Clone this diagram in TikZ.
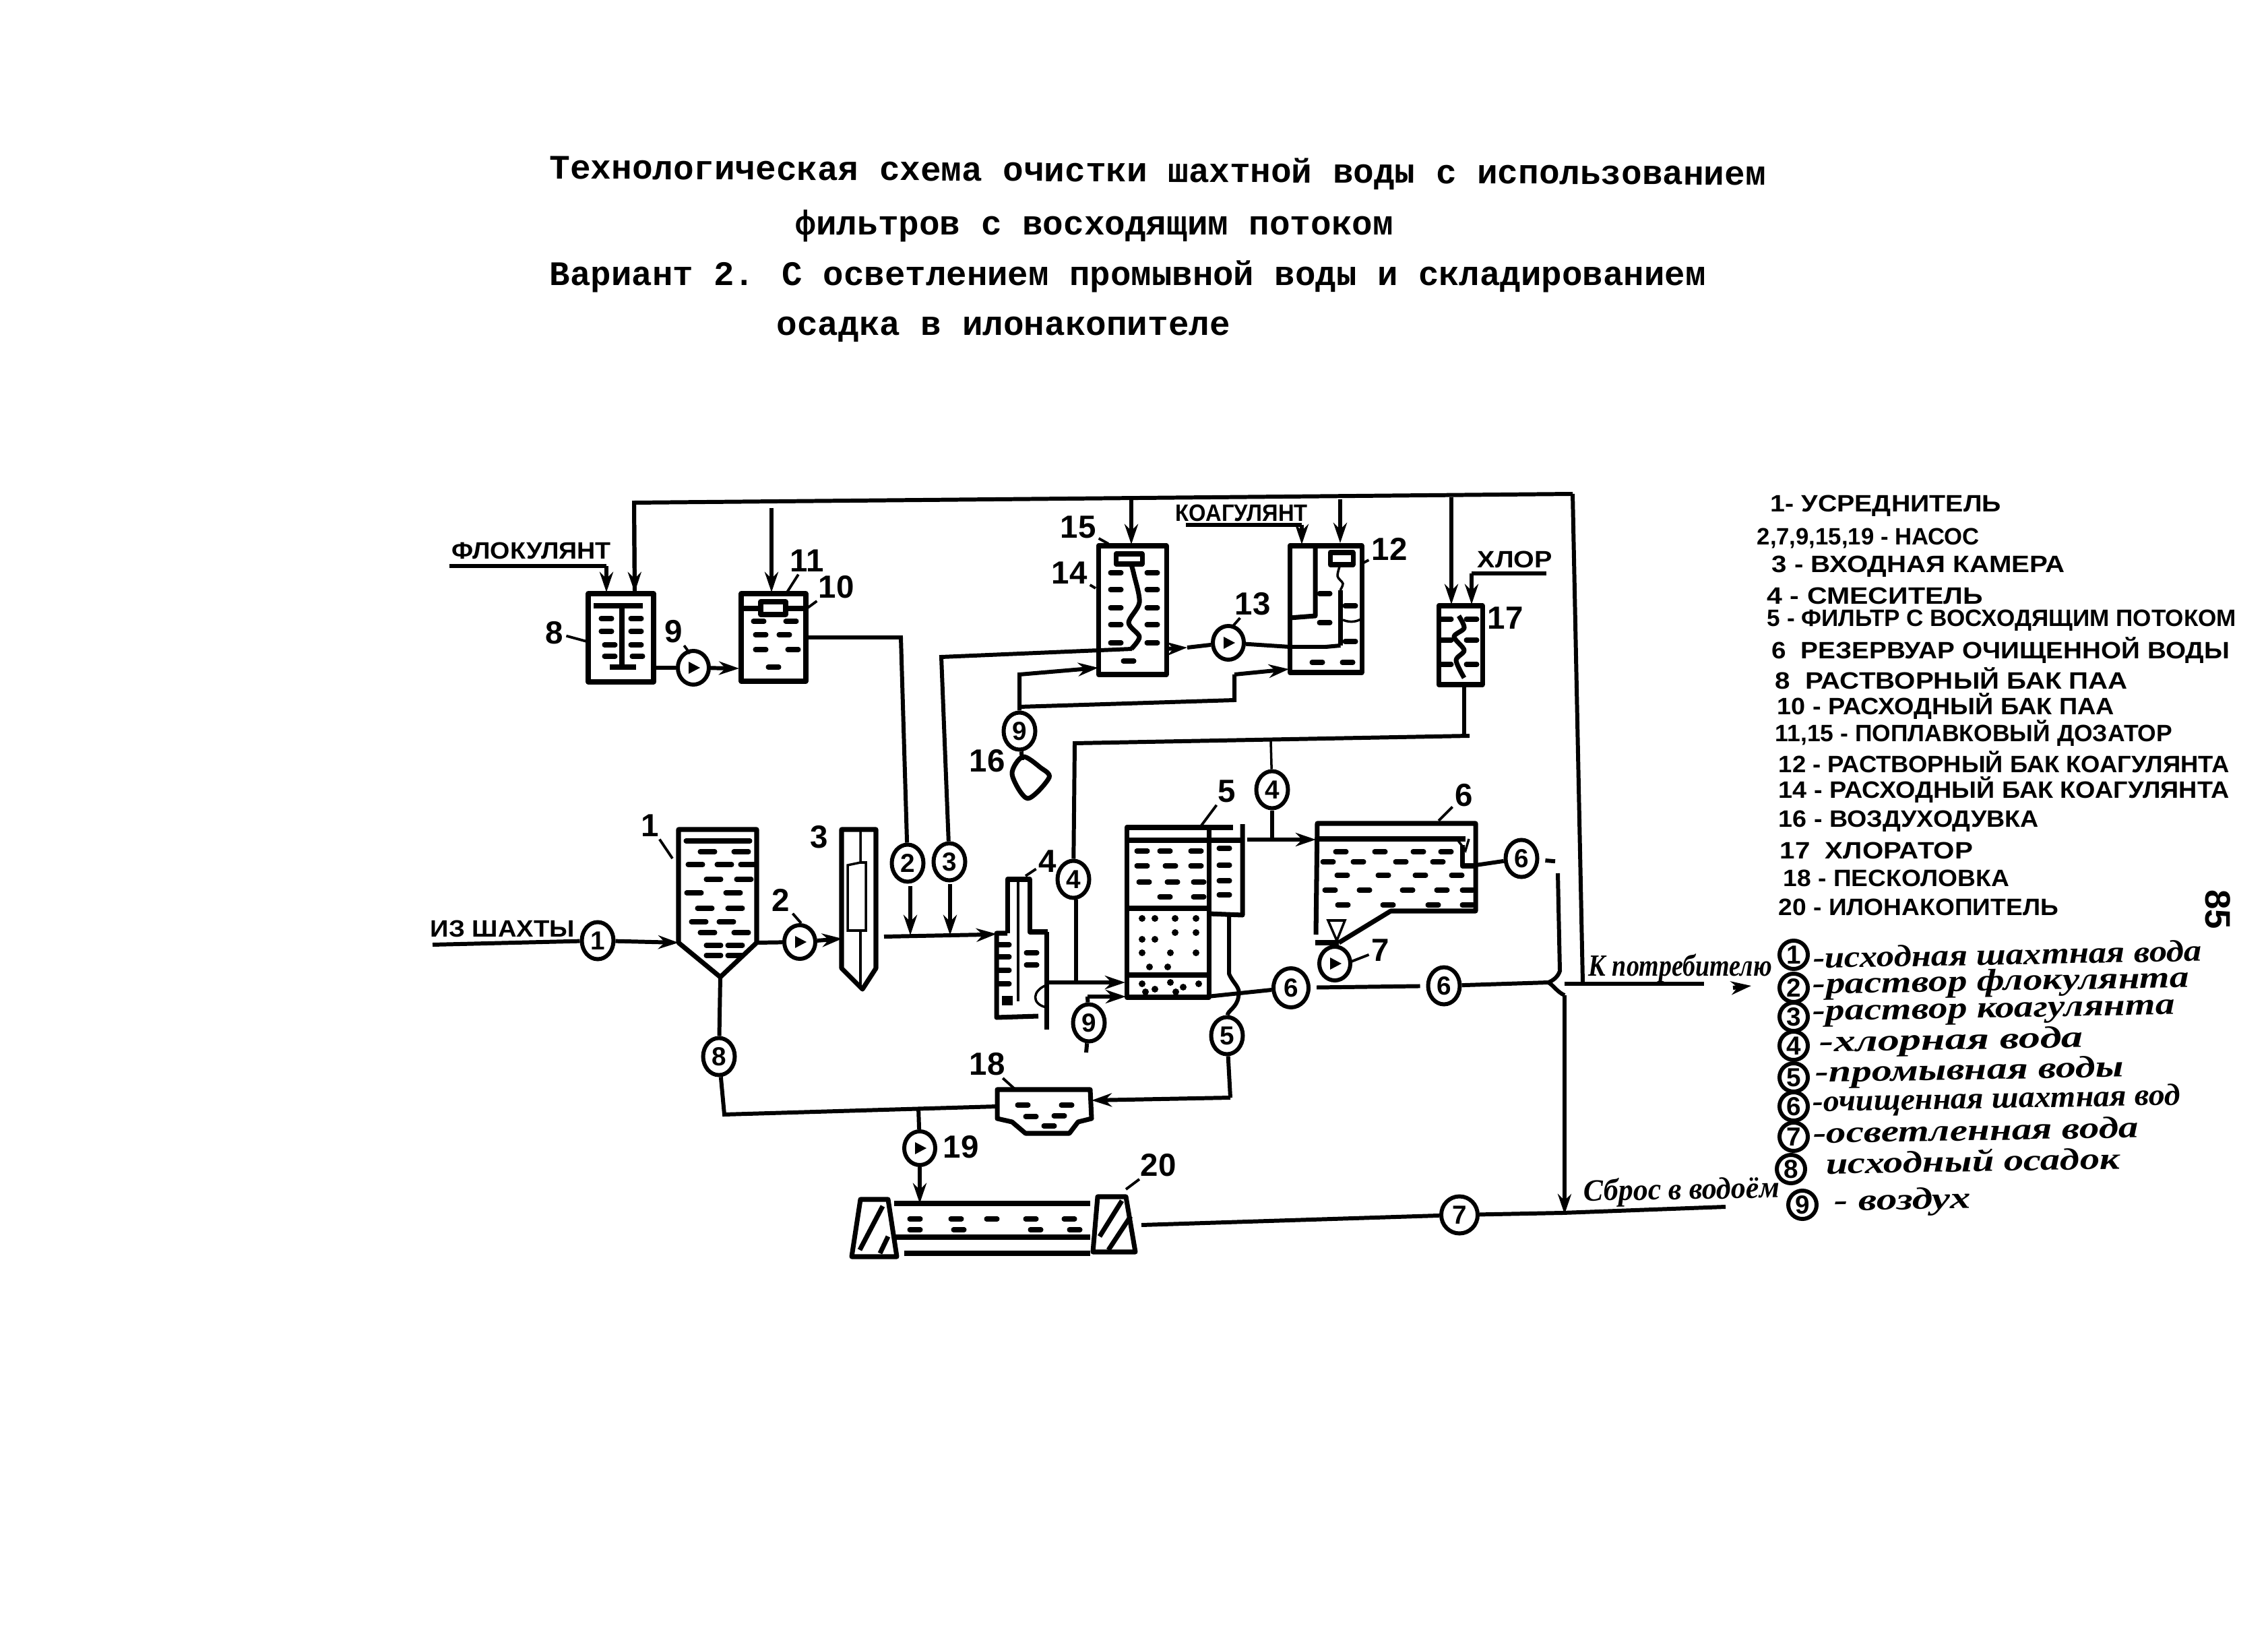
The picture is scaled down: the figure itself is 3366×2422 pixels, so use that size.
\documentclass[tikz,border=0pt]{standalone}
\usepackage{fontspec}
\usepackage{graphicx}
\setmainfont{Liberation Sans}
\newfontfamily\typedfont{Liberation Mono}
\newfontfamily\cursfont{Liberation Serif}
\usetikzlibrary{shapes.geometric,arrows.meta}
\tikzset{
  pipe/.style={line width=1.7pt},
  gappipe/.style={pipe,shorten <=0.09cm,shorten >=0.09cm},
  flow/.style={pipe,-{Stealth[length=0.3cm,width=0.2cm]}},
  wall/.style={line width=2pt,line join=round},
  thinline/.style={line width=1pt},
  leader/.style={line width=1.1pt},
  ripple/.style={line width=2pt,line cap=round},
  tankbox/.style 2 args={draw,wall,inner sep=0pt,outer sep=0pt,minimum width=#1*0.01cm,minimum height=#2*0.01cm},
  stream/.style={ellipse,draw,pipe,inner sep=0pt,minimum width=0.47cm,minimum height=0.55cm,font=\bfseries\fontsize{11pt}{11pt}\selectfont},
  pump/.style={ellipse,draw,pipe,inner sep=0pt,minimum width=0.46cm,minimum height=0.5cm},
  tag/.style={inner sep=1pt,font=\bfseries\fontsize{13.5pt}{13.5pt}\selectfont},
  hand/.style={inner sep=0pt,anchor=west,font=\bfseries\fontsize{10pt}{10pt}\selectfont},
  cursive/.style={inner sep=0pt,anchor=west,rotate=1,font=\cursfont\bfseries\itshape\fontsize{13pt}{13pt}\selectfont},
  typed/.style={inner sep=0pt,anchor=west,font=\typedfont\bfseries\fontsize{14.5pt}{14.5pt}\selectfont}
}
\begin{document}
\begin{tikzpicture}[x=0.01cm,y=-0.01cm]
  \useasboundingbox (0,0) rectangle (3366,2422);
  \fill[white] (0,0) rectangle (3366,2422);

  % title
  \node[typed,rotate=-0.3] (title1) at (815,252) {Технологическая схема очистки шахтной воды с использованием};
  \node[typed] (title2) at (1180,335) {фильтров с восходящим потоком};
  \node[typed] (title3) at (815,410) {\resizebox{17.15cm}{\height}{Вариант 2. С осветлением промывной воды и складированием}};
  \node[typed] (title4) at (1152,489) {осадка в илонакопителе};

  % tanks
  \node[tankbox={97}{131}] (t8) at (921.5,946.5) {};
  \node[tankbox={96}{130}] (t10) at (1148,946) {};
  \node[tankbox={101}{191}] (t14) at (1680.5,905.5) {};
  \node[tankbox={107}{188}] (t12) at (1967.5,904) {};
  \node[tankbox={65}{117}] (t17) at (2167.5,957.5) {};
  \node[tankbox={122}{252}] (t5) at (1733,1354) {};

  % equalizer, inlet chamber, mixer
  \coordinate (t1l) at (1007,1399);
  \coordinate (t1r) at (1123,1399);
  \coordinate (t1apex) at (1069,1450);
  \draw[wall] (1007,1231) -- (t1l) -- (t1apex) -- (t1r) -- (1123,1231) -- cycle;
  \draw[wall] (1249,1231) -- (1249,1437) -- (1280,1468) -- (1300,1437) -- (1300,1231) -- cycle;
  \draw[thinline] (1277,1233) -- (1277,1280) -- (1258,1284) -- (1258,1381) -- (1285,1381) -- (1285,1280) -- (1277,1280);
  \draw[thinline] (1277,1381) -- (1277,1463);
  \draw[wall] (1495,1385) -- (1495,1305) -- (1528,1305) -- (1528,1383) -- (1555,1383);
  \draw[wall] (1495,1385) -- (1479,1385) -- (1479,1510) -- (1541,1508);
  \draw[wall] (1553,1383) -- (1553,1528);
  \draw[thinline] (1511,1307) -- (1511,1486);
  \draw[thinline] (1553,1462) .. controls (1532,1470) and (1530,1490) .. (1553,1495);
  \fill (1487,1478) rectangle (1503,1492);

  % filter
  \draw[wall] (1672,1228) -- (1830,1228);
  \draw[wall] (1675,1247) -- (1844,1247);
  \draw[wall] (1844,1223) -- (1844,1358) -- (1794,1356);
  \draw[wall] (1675,1348) -- (1794,1348);
  \draw[wall] (1675,1447) -- (1794,1447);

  % clear water reservoir
  \draw[wall] (1953,1387) -- (1955,1222) -- (2190,1222) -- (2190,1352) -- (2064,1352) -- (1987,1399);
  \draw[wall] (1955,1245) -- (2175,1245);
  \draw[wall] (2170,1254) -- (2170,1285) -- (2190,1285);
  \draw[thinline] (2162,1245) -- (2175,1262) -- (2180,1245);
  \draw[wall] (1952,1399) -- (1987,1399);
  \draw[thinline] (1971,1366) -- (1996,1366) -- (1984,1396) -- cycle;

  % sand trap and sludge pond
  \draw[wall] (1480,1617) -- (1618,1617) -- (1620,1660) -- (1600,1665) -- (1587,1682) -- (1522,1682) -- (1502,1665) -- (1480,1660) -- cycle;
  \draw[wall] (1277,1780) -- (1318,1780) -- (1331,1865) -- (1264,1865) -- cycle;
  \draw[wall] (1629,1776) -- (1671,1776) -- (1685,1858) -- (1622,1858) -- cycle;
  \draw[wall] (1276,1855) -- (1310,1790);
  \draw[wall] (1306,1860) -- (1318,1835);
  \draw[wall] (1632,1835) -- (1665,1782);
  \draw[wall] (1645,1855) -- (1678,1805);
  \draw[wall] (1327,1786) -- (1618,1786);
  \draw[wall] (1327,1836) -- (1618,1836);
  \draw[wall] (1342,1860) -- (1618,1860);

  % float boxes and inner parts
  \draw[wall] (881,899) -- (954,899);
  \draw[wall] (923,902) -- (923,988);
  \draw[wall] (905,990) -- (944,990);
  \draw[wall] (1100,903) -- (1129,903);
  \draw[wall] (1166,903) -- (1196,903);
  \draw[wall] (1129,893) rectangle (1166,912);
  \draw[wall] (1656,822) rectangle (1695,837);
  \draw[wall] plot[smooth] coordinates {(1679,838) (1683,853) (1691,894) (1675,924) (1691,945) (1679,963)};
  \draw[wall] (1952,812) -- (1952,914) -- (1914,917);
  \draw[wall] (1974,820) rectangle (2008,838);
  \draw[thinline] plot[smooth] coordinates {(1989,838) (1985,855) (1993,866) (1989,876)};
  \draw[wall] (1989,876) -- (1989,958);
  \draw[thinline] (1993,920) .. controls (2005,925) and (2015,922) .. (2021,918);
  \draw[wall] plot[smooth] coordinates {(2165,914) (2173,932) (2158,945) (2173,965) (2161,980) (2173,1006)};

  % water and sediment
  \foreach \x/\y in {1050/1264,1100/1264,1032/1283,1075/1283,1110/1283,1059/1305,1104/1305,1030/1325,1088/1325,
    1046/1348,1091/1348,1037/1368,1078/1368,1050/1384,1100/1384,1059/1403,1091/1403,1059/1418,1091/1418}
    \draw[ripple] (\x-11,\y) -- (\x+11,\y);
  \draw[ripple] (1018,1248) -- (1113,1248);
  \foreach \x/\y in {900/918,944/918,900/937,944/937,905/957,944/957,905/974,946/974,
    1126/922,1174/922,1129/942,1164/942,1129/964,1177/964,1148/990,
    1656/850,1710/850,1656/875,1710/875,1656/902,1710/902,1656/927,1710/927,1656/954,1710/954,1675/981,
    1966/881,2004/899,1966/924,2004/952,1955/983,2000/983,2146/919,2184/919,2146/950,2184/950,2146/986,2184/986,
    1695/1263,1729/1263,1775/1263,1695/1285,1737/1285,1775/1285,1698/1309,1740/1309,1779/1309,1729/1331,1779/1331,
    1817/1259,1817/1284,1817/1307,1817/1328,
    1990/1264,2048/1264,2105/1264,2146/1264,1971/1279,2016/1279,2079/1279,2134/1279,
    1992/1299,2053/1299,2108/1299,2162/1299,1974/1321,2025/1321,2089/1321,2140/1321,2178/1321,
    1993/1343,2060/1343,2127/1343,2178/1343,
    1518/1640,1583/1640,1530/1657,1572/1656,1557/1671,
    1358/1809,1419/1809,1472/1809,1530/1809,1587/1809,1358/1825,1423/1825,1537/1825,1595/1825,
    1490/1402,1490/1420,1490/1440,1490/1460,1531/1414,1531/1432}
    \draw[ripple] (\x-8,\y) -- (\x+8,\y);
  \foreach \x/\y in {1695/1363,1714/1363,1744/1363,1775/1363,1695/1394,1714/1394,1744/1384,1775/1384,
    1695/1414,1737/1414,1775/1414,1706/1435,1733/1435,1695/1460,1714/1468,1737/1458,1756/1465,1779/1460,1700/1472,1745/1472}
    \fill (\x,\y) circle (0.05cm);

  % stream marks
  \node[stream] (c1) at (887,1396) {1};
  \node[stream] (c2) at (1347,1281) {2};
  \node[stream] (c3) at (1409,1279) {3};
  \node[stream] (c4a) at (1593,1305) {4};
  \node[stream] (c4b) at (1888,1172) {4};
  \node[stream] (c5) at (1821,1537) {5};
  \node[stream,minimum width=0.52cm,minimum height=0.58cm] (c6a) at (1916,1466) {6};
  \node[stream] (c6b) at (2143,1463) {6};
  \node[stream] (c6c) at (2258,1274) {6};
  \node[stream,minimum width=0.54cm] (c7a) at (2166,1803) {7};
  \node[stream] (c8) at (1067,1568) {8};
  \node[stream] (c9a) at (1513,1085) {9};
  \node[stream] (c9b) at (1616,1518) {9};

  % pumps
  \node[pump] (p2) at (1187,1398) {};
  \node[pump] (p7) at (1981,1430) {};
  \node[pump] (p9) at (1029,991) {};
  \node[pump] (p13) at (1823,954) {};
  \node[pump] (p19) at (1365,1704) {};
  \foreach \p in {p2,p7,p9,p13,p19}
    \fill ([xshift=-0.07cm,yshift=0.09cm]\p.center) -- ([xshift=-0.07cm,yshift=-0.09cm]\p.center) -- ([xshift=0.1cm]\p.center) -- cycle;

  % blower
  \draw[wall] plot[smooth cycle] coordinates {(1518,1123) (1502,1149) (1525,1185) (1557,1154) (1544,1139)};
  \coordinate (blowerIn) at (1517,1128);
  \draw[pipe] (c9a) -- (blowerIn);

  % number tags with leaders
  \foreach \n/\x/\y/\tx/\ty in {1/965/1225/998/1274,2/1159/1336/1189/1370,4/1555/1278/1522/1300,5/1821/1174/1783/1225,
    6/2173/1180/2135/1218,7/2049/1410/2003/1428,8/823/939/871/952,9/1000/937/1024/970,10/1241/871/1196/904,
    11/1198/832/1168/879,12/2062/815/2024/835,13/1859/896/1829/930,14/1587/850/1626/873,15/1600/782/1645/807,
    17/2234/917/2200/925,18/1465/1579/1507/1617,20/1719/1729/1671/1765}{
    \node[tag] (lb\n) at (\x,\y) {\n};
    \coordinate (ld\n) at (\tx,\ty);
    \draw[leader] (lb\n) -- (ld\n);
  }
  \node[tag] (lb3) at (1216,1242) {3};
  \node[tag] (lb16) at (1465,1129) {16};
  \node[tag] (lb19) at (1426,1702) {19};

  % pipe points
  \coordinate (topL) at (941,746);
  \coordinate (topR) at (2334,733);
  \coordinate (outMain) at (2349,1458);
  \coordinate (feed8) at (942,879);
  \coordinate (feed10a) at (1145,754);
  \coordinate (feed10b) at (1145,879);
  \coordinate (feed14a) at (1679,738);
  \coordinate (feed14b) at (1679,808);
  \coordinate (feed12a) at (1989,741);
  \coordinate (feed12b) at (1989,806);
  \coordinate (feed17a) at (2154,738);
  \coordinate (feed17b) at (2154,897);
  \coordinate (flocA) at (667,840);
  \coordinate (flocB) at (900,840);
  \coordinate (flocC) at (900,879);
  \coordinate (coagA) at (1760,779);
  \coordinate (coagB) at (1932,779);
  \coordinate (coagC) at (1932,808);
  \coordinate (chlorA) at (2295,851);
  \coordinate (chlorB) at (2184,851);
  \coordinate (chlorC) at (2184,897);
  \coordinate (in9) at (1097,992);
  \coordinate (out10) at (1337,946);
  \coordinate (bend3) at (1397,975);
  \coordinate (end3) at (1680,963);
  \coordinate (arr13) at (1762,961);
  \coordinate (out14) at (1731,963);
  \coordinate (in12) at (1914,960);
  \coordinate (air1) at (1513,1001);
  \coordinate (air2) at (1630,991);
  \coordinate (air3) at (1513,1049);
  \coordinate (air4) at (1832,1039);
  \coordinate (air5) at (1832,1001);
  \coordinate (air6) at (1913,993);
  \coordinate (shaft) at (642,1402);
  \coordinate (in3) at (1250,1393);
  \coordinate (m0) at (1312,1390);
  \coordinate (arr4) at (1462,1387);
  \coordinate (in4) at (1479,1386);
  \coordinate (dose2a) at (1351,1315);
  \coordinate (dose2b) at (1351,1388);
  \coordinate (dose3a) at (1410,1312);
  \coordinate (dose3b) at (1410,1388);
  \coordinate (ch1) at (2181,1092);
  \coordinate (ch2) at (1595,1103);
  \coordinate (ch3) at (2173,1092);
  \coordinate (ch4) at (1597,1335);
  \coordinate (ch5) at (1597,1458);
  \coordinate (ch6) at (1886,1100);
  \coordinate (mix1) at (1553,1458);
  \coordinate (mix2) at (1670,1458);
  \coordinate (air7) at (1614,1479);
  \coordinate (air8) at (1671,1479);
  \coordinate (air9) at (1612,1562);
  \coordinate (tee6a) at (1888,1246);
  \coordinate (tee6b) at (1851,1246);
  \coordinate (in6) at (1953,1246);
  \coordinate (out5) at (1792,1479);
  \coordinate (wash1) at (1824,1358);
  \coordinate (wash2) at (1824,1445);
  \coordinate (wash3) at (1838,1479);
  \coordinate (wash4) at (1826,1629);
  \coordinate (in18) at (1620,1633);
  \coordinate (out18) at (1480,1642);
  \coordinate (sed1) at (1075,1654);
  \coordinate (tee19) at (1363,1643);
  \coordinate (in20) at (1365,1786);
  \coordinate (over6) at (2190,1284);
  \coordinate (over6b) at (2317,1279);
  \coordinate (cross1) at (2312,1296);
  \coordinate (cross2) at (2315,1441);
  \coordinate (cross3) at (2298,1458);
  \coordinate (cross4) at (2322,1477);
  \coordinate (dump) at (2322,1802);
  \coordinate (consA) at (2322,1460);
  \coordinate (consB) at (2529,1460);
  \coordinate (consC) at (2572,1466);
  \coordinate (consD) at (2599,1463);
  \coordinate (out20) at (1694,1818);
  \coordinate (dumpLine) at (2319,1800);
  \coordinate (dumpEnd) at (2561,1791);

  % pipes
  \draw[pipe] (topR) -- (topL) -- (feed8);
  \draw[flow] (topL) -- (feed8);
  \draw[pipe] (topR) -- (outMain);
  \draw[flow] (feed10a) -- (feed10b);
  \draw[flow] (feed14a) -- (feed14b);
  \draw[flow] (feed12a) -- (feed12b);
  \draw[flow] (feed17a) -- (feed17b);
  \draw[pipe] (flocA) -- (flocB);
  \draw[flow] (flocB) -- (flocC);
  \draw[pipe] (coagA) -- (coagB);
  \draw[flow] (coagB) -- (coagC);
  \draw[pipe] (chlorA) -- (chlorB);
  \draw[flow] (chlorB) -- (chlorC);
  \draw[pipe] (t8.east |- p9) -- (p9);
  \draw[flow] (p9) -- (in9);
  \draw[pipe] (t10.east) -- (out10) -- (c2);
  \draw[pipe] (c3) -- (bend3) -- (end3);
  \draw[flow] (out14) -- (arr13);
  \draw[pipe] (arr13) -- (p13);
  \draw[pipe] (p13) -- (in12) -- (t12.center |- in12) -- ++(22,-2);
  \draw[flow] (air3) -- (air1) -- (air2);
  \draw[pipe] (c9a) -- (air3) -- (air4) -- (air5);
  \draw[flow] (air5) -- (air6);
  \draw[pipe] (shaft) -- (c1);
  \draw[flow] (c1) -- (t1l);
  \draw[pipe] (t1r) -- (p2);
  \draw[flow] (p2) -- (in3);
  \draw[pipe] (m0) -- (arr4);
  \draw[flow] (arr4) -- (in4);
  \draw[flow] (dose2a) -- (dose2b);
  \draw[flow] (dose3a) -- (dose3b);
  \draw[pipe] (t17.south -| ch3) -- (ch3);
  \draw[pipe] (ch1) -- (ch2) -- (c4a);
  \draw[pipe] (ch4) -- (ch5);
  \draw[thinline] (ch6) -- (c4b);
  \draw[flow] (mix1) -- (mix2);
  \draw[pipe] (c9b) -- (air7);
  \draw[flow] (air7) -- (air8);
  \draw[pipe] (c9b) -- (air9);
  \draw[pipe] (c4b) -- (tee6a);
  \draw[flow] (tee6b) -- (in6);
  \draw[pipe] (out5) -- (c6a);
  \draw[gappipe] (c6a) -- (c6b);
  \draw[pipe] (c6b) -- (cross3);
  \draw[pipe] (wash1) -- (wash2) .. controls (1830,1460) and (1842,1465) .. (wash3) .. controls (1836,1495) and (1822,1500) .. (c5);
  \draw[pipe] (c5) -- (wash4);
  \draw[flow] (wash4) -- (in18);
  \draw[pipe] (out18) -- (sed1) -- (c8);
  \draw[pipe] (c8) -- (t1apex);
  \draw[pipe] (tee19) -- (p19);
  \draw[flow] (p19) -- (in20);
  \draw[pipe] (over6) -- (c6c);
  \draw[gappipe] (c6c) -- (over6b);
  \draw[pipe] (cross1) -- (cross2) .. controls (2312,1450) and (2305,1455) .. (cross3) .. controls (2305,1462) and (2312,1473) .. (cross4);
  \draw[flow] (cross4) -- (dump);
  \draw[pipe] (consA) -- (consB);
  \draw[flow] (consC) -- (consD);
  \draw[pipe] (out20) -- (c7a) -- (dumpLine);
  \draw[pipe] (dumpLine) -- (dumpEnd);
  \draw[leader] (p7) -- (ld7);
  \coordinate (p7top) at (1984,1399);
  \draw[pipe] (p7top) -- (p7);

  % stream names on the drawing
  \node[hand] (nFloc) at (670,817) {\resizebox{2.36cm}{\height}{ФЛОКУЛЯНТ}};
  \node[hand] (nCoag) at (1744,761) {\resizebox{1.96cm}{\height}{КОАГУЛЯНТ}};
  \node[hand] (nChlor) at (2192,830) {\resizebox{1.11cm}{\height}{ХЛОР}};
  \node[hand] (nMine) at (638,1378) {\resizebox{2.14cm}{\height}{ИЗ ШАХТЫ}};
  \node[cursive,rotate=-1] (nCons) at (2357,1437) {\resizebox{2.72cm}{\height}{К потребителю}};
  \node[cursive] (nDump) at (2350,1771) {\resizebox{2.9cm}{\height}{Сброс в водоём}};

  % legend of units
  \foreach \n/\x/\y/\w/\txt in {1/2627/751/3.42/{1- УСРЕДНИТЕЛЬ},2/2607/799/3.30/{2,7,9,15,19 - НАСОС},3/2629/841/4.35/{3 - ВХОДНАЯ КАМЕРА},
    4/2622/884/3.20/{4 - СМЕСИТЕЛЬ},5/2622/921/6.96/{5 - ФИЛЬТР С ВОСХОДЯЩИМ ПОТОКОМ},6/2629/965/6.79/{6\ \ РЕЗЕРВУАР ОЧИЩЕННОЙ ВОДЫ},
    8/2634/1007/5.23/{8\ \ РАСТВОРНЫЙ БАК ПАА},10/2637/1048/5.00/{10 - РАСХОДНЫЙ БАК ПАА},11/2634/1088/5.89/{11,15 - ПОПЛАВКОВЫЙ ДОЗАТОР},
    12/2639/1131/6.69/{12 - РАСТВОРНЫЙ БАК КОАГУЛЯНТА},14/2639/1172/6.69/{14 - РАСХОДНЫЙ БАК КОАГУЛЯНТА},16/2639/1219/3.86/{16 - ВОЗДУХОДУВКА},
    17/2641/1262/2.86/{17\ \ ХЛОРАТОР},18/2646/1303/3.35/{18 - ПЕСКОЛОВКА},20/2639/1346/4.15/{20 - ИЛОНАКОПИТЕЛЬ}}
    \node[hand] (unit\n) at (\x,\y) {\resizebox{\w cm}{\height}{\txt}};
  \node[hand,font=\bfseries\fontsize{15pt}{15pt}\selectfont,rotate=-90,anchor=center] (pageNo) at (3292,1350) {85};

  % legend of streams
  \foreach \n/\cy/\cx/\x/\y/\w/\txt in {1/1417/2662/2690/1421/5.77/{-исходная шахтная вода},2/1466/2662/2690/1464/5.58/{-раствор флокулянта},
    3/1509/2662/2690/1509/5.37/{-раствор коагулянта},4/1552/2662/2700/1550/3.91/{-хлорная вода},5/1599/2662/2694/1595/4.57/{-промывная воды},
    6/1642/2662/2690/1638/5.45/{-очищенная шахтная вод},7/1687/2662/2690/1681/4.83/{-осветленная вода},8/1735/2658/2709/1726/4.36/{исходный осадок},
    9/1788/2675/2722/1786/2.02/{- воздух}}{
    \node[stream,minimum width=0.42cm,minimum height=0.42cm] (s\n) at (\cx,\cy) {\n};
    \node[cursive] (sn\n) at (\x,\y) {\resizebox{\w cm}{\height}{\txt}};
  }
\end{tikzpicture}
\end{document}
